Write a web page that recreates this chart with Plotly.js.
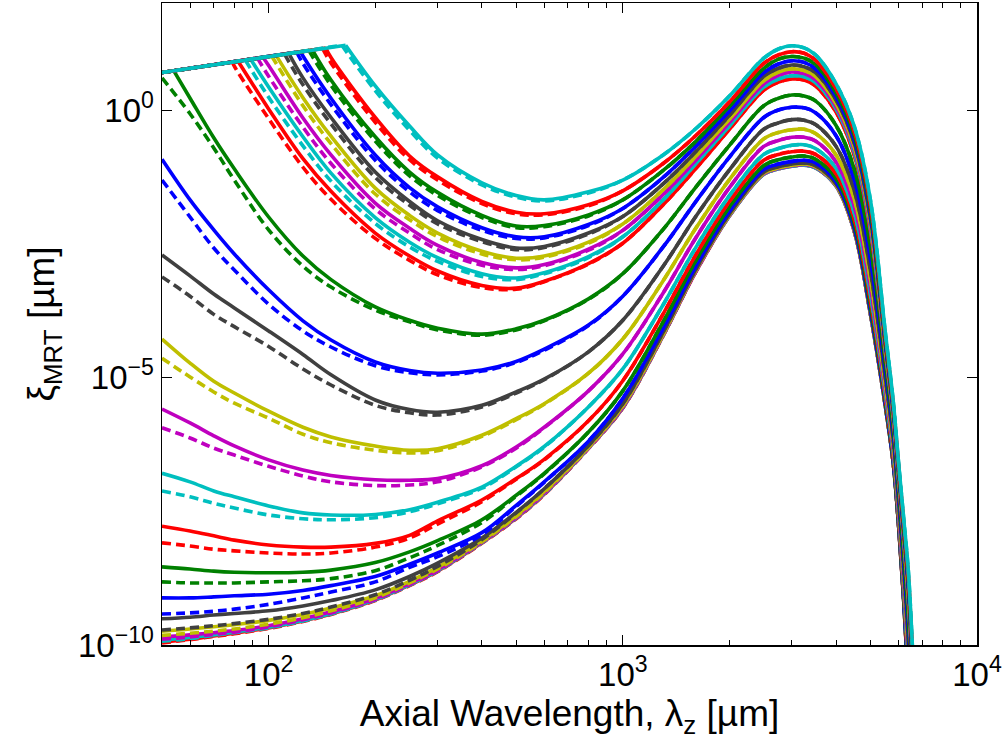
<!DOCTYPE html>
<html>
<head>
<meta charset="utf-8">
<script src="https://cdn.plot.ly/plotly-3.0.1.min.js"></script>
<style>
  html, body { margin: 0; padding: 0; background: #fff; }
  #chart { width: 1008px; height: 744px; }
</style>
</head>
<body>
<div id="chart"></div>
<script>
// Axial wavelength grids (µm)
const lambdaLeft  = [50, 60, 70, 80, 100, 125, 150, 200, 250, 300, 400, 500, 600, 800];
const lambdaRight = [1000, 1300, 1600, 2000, 2500, 2750, 3000, 3250, 3500, 4000, 4500, 5000, 5500, 5800, 6000, 6200, 6400, 6600, 6800, 7000];
// upper limit line (log10 ξ) at the first seven left wavelengths
const ceilingLog = [0.70, 0.78, 0.85, 0.90, 1.00, 1.10, 1.18];

// All values below are log10(ξ_MRT / µm).
// null = point lies on the upper limit line; kink = [λ, log10 ξ] where a curve leaves that line.
const kinkS01 = [165, 1.21], kinkD01 = [161, 1.21];
const solid01 = [null, null, null, null, null, null, null, 0.45, -0.30, -0.84, -1.36, -1.60, -1.68, -1.53];
const dash01  = [null, null, null, null, null, null, null, 0.36, -0.38, -0.90, -1.40, -1.63, -1.70, -1.55];
const right01 = [-1.31, -0.84, -0.36, 0.26, 0.97, 1.14, 1.20, 1.16, 1.03, 0.49, -0.30, -1.68, -4.11, -5.44, -6.56, -7.59, -8.62, -10.28, -12.0, -14.0];

const kinkS02 = [145, 1.16], kinkD02 = [142, 1.15];
const solid02 = [null, null, null, null, null, null, 0.98, -0.14, -0.86, -1.25, -1.71, -1.91, -1.94, -1.77];
const dash02  = [null, null, null, null, null, null, 0.88, -0.23, -0.93, -1.31, -1.75, -1.94, -1.96, -1.79];
const right02 = [-1.51, -1.00, -0.49, 0.15, 0.87, 1.03, 1.09, 1.06, 0.93, 0.40, -0.39, -1.78, -4.18, -5.50, -6.62, -7.66, -8.72, -10.39, -12.11, -14.10];

const kinkS03 = [133, 1.12], kinkD03 = [130, 1.11];
const solid03 = [null, null, null, null, null, null, 0.56, -0.50, -1.16, -1.54, -1.97, -2.17, -2.16, -1.96];
const dash03  = [null, null, null, null, null, null, 0.46, -0.58, -1.23, -1.60, -2.01, -2.20, -2.18, -1.98];
const right03 = [-1.68, -1.13, -0.60, 0.07, 0.78, 0.95, 1.00, 0.97, 0.85, 0.32, -0.47, -1.87, -4.23, -5.54, -6.66, -7.72, -8.80, -10.47, -12.20, -14.17];

const kinkS04 = [123, 1.09], kinkD04 = [120, 1.08];
const solid04 = [null, null, null, null, null, 1.01, 0.22, -0.84, -1.45, -1.81, -2.20, -2.37, -2.37, -2.14];
const dash04  = [null, null, null, null, null, 0.87, 0.10, -0.94, -1.53, -1.88, -2.25, -2.40, -2.39, -2.16];
const right04 = [-1.84, -1.26, -0.69, -0.02, 0.70, 0.86, 0.92, 0.89, 0.77, 0.25, -0.55, -1.95, -4.28, -5.59, -6.71, -7.78, -8.88, -10.56, -12.29, -14.25];

const kinkS05 = [114, 1.06], kinkD05 = [111, 1.04];
const solid05 = [null, null, null, null, null, 0.60, -0.14, -1.16, -1.71, -2.07, -2.42, -2.58, -2.55, -2.30];
const dash05  = [null, null, null, null, null, 0.47, -0.26, -1.26, -1.78, -2.13, -2.46, -2.61, -2.57, -2.32];
const right05 = [-1.99, -1.38, -0.79, -0.10, 0.63, 0.78, 0.84, 0.81, 0.70, 0.19, -0.61, -2.02, -4.33, -5.62, -6.74, -7.83, -8.95, -10.63, -12.37, -14.32];

const kinkS06 = [105, 1.02], kinkD06 = [102, 1.01];
const solid06 = [null, null, null, null, null, 0.23, -0.49, -1.46, -1.97, -2.30, -2.64, -2.77, -2.73, -2.47];
const dash06  = [null, null, null, null, null, 0.08, -0.63, -1.57, -2.05, -2.37, -2.69, -2.80, -2.75, -2.49];
const right06 = [-2.13, -1.49, -0.88, -0.17, 0.55, 0.71, 0.77, 0.74, 0.63, 0.12, -0.68, -2.09, -4.38, -5.66, -6.78, -7.88, -9.02, -10.71, -12.44, -14.38];

const kinkS07 = [96.5, 0.98], kinkD07 = [93, 0.97];
const solid07 = [null, null, null, null, 0.83, -0.15, -0.84, -1.74, -2.21, -2.53, -2.85, -2.95, -2.89, -2.60];
const dash07  = [null, null, null, null, 0.63, -0.32, -1.00, -1.85, -2.30, -2.61, -2.90, -2.98, -2.91, -2.62];
const right07 = [-2.25, -1.58, -0.95, -0.23, 0.49, 0.65, 0.71, 0.68, 0.57, 0.07, -0.73, -2.15, -4.42, -5.70, -6.82, -7.92, -9.08, -10.77, -12.51, -14.44];

const kinkS08 = [89, 0.95], kinkD08 = [86, 0.93];
const solid08 = [null, null, null, null, 0.43, -0.50, -1.18, -2.01, -2.47, -2.76, -3.06, -3.14, -3.04, -2.74];
const dash08  = [null, null, null, null, 0.24, -0.67, -1.33, -2.12, -2.56, -2.83, -3.11, -3.17, -3.06, -2.76];
const right08 = [-2.37, -1.68, -1.02, -0.30, 0.43, 0.58, 0.64, 0.62, 0.51, 0.02, -0.79, -2.21, -4.46, -5.73, -6.85, -7.96, -9.14, -10.83, -12.57, -14.50];

const kinkS09 = [82, 0.91], kinkD09 = [79, 0.90];
const solid09 = [null, null, null, null, 0.02, -0.91, -1.52, -2.30, -2.73, -3.01, -3.28, -3.33, -3.20, -2.87];
const dash09  = [null, null, null, 0.82, -0.16, -1.07, -1.67, -2.40, -2.81, -3.08, -3.32, -3.35, -3.21, -2.88];
const right09 = [-2.49, -1.77, -1.11, -0.36, 0.37, 0.52, 0.58, 0.56, 0.45, -0.04, -0.84, -2.27, -4.49, -5.76, -6.88, -8.01, -9.20, -10.89, -12.64, -14.55];

const kinkS10 = [54, 0.73], kinkD10 = null;
const solid10 = [null, 0.22, -0.52, -1.10, -2.00, -2.73, -3.17, -3.68, -3.93, -4.08, -4.19, -4.09, -3.93, -3.53];
const dash10  = [0.60, -0.07, -0.71, -1.31, -2.24, -2.92, -3.31, -3.74, -3.96, -4.11, -4.21, -4.11, -3.94, -3.54];
const right10 = [-3.06, -2.23, -1.46, -0.66, 0.08, 0.22, 0.28, 0.26, 0.17, -0.29, -1.10, -2.55, -4.68, -5.92, -7.04, -8.21, -9.48, -11.19, -12.94, -14.82];

const solid11 = [-0.92, -1.68, -2.24, -2.69, -3.36, -3.94, -4.30, -4.71, -4.87, -4.92, -4.86, -4.70, -4.47, -4.02];
const dash11  = [-1.31, -2.00, -2.58, -2.99, -3.63, -4.13, -4.43, -4.78, -4.91, -4.95, -4.88, -4.72, -4.49, -4.03];
const right11 = [-3.48, -2.56, -1.73, -0.88, -0.14, 0.00, 0.05, 0.04, -0.05, -0.48, -1.30, -2.77, -4.82, -6.03, -7.15, -8.36, -9.69, -11.41, -13.17, -15.02];

const solid12 = [-2.71, -3.10, -3.44, -3.70, -4.13, -4.57, -4.95, -5.42, -5.60, -5.65, -5.52, -5.27, -5.03, -4.52];
const dash12  = [-3.12, -3.48, -3.82, -4.05, -4.42, -4.84, -5.14, -5.52, -5.66, -5.70, -5.55, -5.29, -5.04, -4.52];
const right12 = [-3.93, -2.92, -2.01, -1.12, -0.36, -0.24, -0.18, -0.19, -0.27, -0.68, -1.50, -2.99, -4.96, -6.15, -7.27, -8.52, -9.90, -11.64, -13.41, -15.23];

const solid13 = [-4.28, -4.73, -5.07, -5.29, -5.63, -5.93, -6.11, -6.28, -6.36, -6.33, -6.08, -5.77, -5.49, -4.92];
const dash13  = [-4.64, -4.99, -5.27, -5.48, -5.76, -6.06, -6.22, -6.36, -6.41, -6.37, -6.10, -5.79, -5.50, -4.92];
const right13 = [-4.28, -3.19, -2.23, -1.30, -0.54, -0.42, -0.37, -0.36, -0.44, -0.84, -1.66, -3.16, -5.08, -6.25, -7.37, -8.64, -10.08, -11.83, -13.60, -15.39];

const solid14 = [-5.59, -5.85, -6.09, -6.28, -6.54, -6.73, -6.83, -6.91, -6.92, -6.89, -6.65, -6.30, -5.93, -5.25];
const dash14  = [-5.94, -6.13, -6.32, -6.45, -6.66, -6.84, -6.95, -7.02, -7.01, -6.95, -6.67, -6.32, -5.94, -5.25];
const right14 = [-4.56, -3.42, -2.41, -1.45, -0.68, -0.57, -0.51, -0.51, -0.58, -0.97, -1.79, -3.30, -5.17, -6.32, -7.44, -8.74, -10.21, -11.97, -13.75, -15.52];

const solid15 = [-6.79, -6.95, -7.12, -7.23, -7.40, -7.53, -7.57, -7.56, -7.47, -7.33, -7.05, -6.66, -6.29, -5.55];
const dash15  = [-7.12, -7.23, -7.35, -7.44, -7.57, -7.64, -7.66, -7.62, -7.51, -7.36, -7.07, -6.67, -6.30, -5.55];
const right15 = [-4.84, -3.64, -2.59, -1.60, -0.83, -0.72, -0.66, -0.65, -0.72, -1.09, -1.92, -3.44, -5.26, -6.40, -7.52, -8.84, -10.35, -12.12, -13.90, -15.66];

const solid16 = [-7.78, -7.87, -7.96, -8.04, -8.13, -8.17, -8.17, -8.10, -7.95, -7.68, -7.29, -6.89, -6.53, -5.81];
const dash16  = [-8.09, -8.15, -8.21, -8.24, -8.28, -8.30, -8.28, -8.17, -8.00, -7.74, -7.32, -6.90, -6.54, -5.81];
const right16 = [-5.06, -3.81, -2.73, -1.71, -0.94, -0.83, -0.78, -0.77, -0.83, -1.19, -2.03, -3.55, -5.33, -6.46, -7.58, -8.92, -10.46, -12.23, -14.02, -15.76];

const solid17 = [-8.54, -8.58, -8.62, -8.64, -8.65, -8.64, -8.60, -8.46, -8.26, -8.05, -7.66, -7.20, -6.79, -6.02];
const dash17  = [-8.82, -8.84, -8.84, -8.84, -8.82, -8.80, -8.76, -8.61, -8.37, -8.14, -7.71, -7.22, -6.80, -6.02];
const right17 = [-5.25, -3.96, -2.84, -1.81, -1.04, -0.93, -0.88, -0.86, -0.92, -1.28, -2.11, -3.65, -5.39, -6.51, -7.63, -8.99, -10.55, -12.33, -14.13, -15.85];

const solid18 = [-9.12, -9.12, -9.10, -9.08, -9.05, -8.98, -8.89, -8.72, -8.49, -8.28, -7.90, -7.39, -6.95, -6.19];
const dash18  = [-9.42, -9.40, -9.37, -9.33, -9.24, -9.12, -9.01, -8.82, -8.55, -8.35, -7.94, -7.41, -6.96, -6.19];
const right18 = [-5.39, -4.08, -2.94, -1.89, -1.11, -1.01, -0.96, -0.94, -0.99, -1.34, -2.18, -3.72, -5.44, -6.55, -7.67, -9.04, -10.62, -12.41, -14.20, -15.92];

const solid19 = [-9.51, -9.48, -9.44, -9.41, -9.36, -9.27, -9.17, -8.97, -8.72, -8.47, -8.00, -7.52, -7.08, -6.27];
const dash19  = [-9.72, -9.68, -9.64, -9.60, -9.52, -9.41, -9.29, -9.06, -8.79, -8.53, -8.03, -7.53, -7.08, -6.27];
const right19 = [-5.49, -4.15, -3.00, -1.94, -1.16, -1.06, -1.01, -0.99, -1.04, -1.38, -2.22, -3.77, -5.47, -6.58, -7.70, -9.07, -10.67, -12.46, -14.25, -15.96];

const solid20 = [-9.74, -9.70, -9.66, -9.62, -9.54, -9.43, -9.31, -9.08, -8.81, -8.55, -8.05, -7.58, -7.13, -6.30];
const dash20  = [-9.82, -9.78, -9.74, -9.70, -9.61, -9.49, -9.36, -9.12, -8.84, -8.58, -8.07, -7.60, -7.15, -6.31];
const right20 = [-5.53, -4.19, -3.02, -1.96, -1.18, -1.08, -1.03, -1.01, -1.06, -1.40, -2.24, -3.79, -5.49, -6.59, -7.71, -9.08, -10.69, -12.48, -14.28, -15.98];

const solid21 = [-9.85, -9.81, -9.77, -9.73, -9.64, -9.51, -9.38, -9.13, -8.85, -8.59, -8.07, -7.61, -7.16, -6.31];
const dash21  = [-9.89, -9.85, -9.80, -9.76, -9.66, -9.53, -9.40, -9.15, -8.87, -8.61, -8.08, -7.62, -7.17, -6.32];
const right21 = [-5.55, -4.20, -3.04, -1.97, -1.19, -1.09, -1.04, -1.02, -1.07, -1.41, -2.25, -3.80, -5.49, -6.59, -7.71, -9.09, -10.70, -12.49, -14.29, -15.99];

const solid22 = [-9.91, -9.86, -9.81, -9.76, -9.67, -9.54, -9.41, -9.15, -8.87, -8.61, -8.08, -7.62, -7.17, -6.32];
const dash22  = [-9.93, -9.88, -9.82, -9.77, -9.68, -9.55, -9.42, -9.16, -8.88, -8.62, -8.09, -7.63, -7.18, -6.32];
const right22 = [-5.56, -4.21, -3.04, -1.98, -1.20, -1.10, -1.05, -1.03, -1.08, -1.42, -2.26, -3.81, -5.50, -6.60, -7.72, -9.10, -10.71, -12.50, -14.30, -16.00];

const solid23 = [-9.94, -9.89, -9.83, -9.78, -9.68, -9.55, -9.42, -9.16, -8.88, -8.62, -8.09, -7.63, -7.18, -6.32];
const dash23  = [-9.96, -9.90, -9.84, -9.79, -9.69, -9.56, -9.43, -9.17, -8.89, -8.63, -8.10, -7.64, -7.19, -6.33];
const right23 = [-5.57, -4.22, -3.05, -1.98, -1.20, -1.10, -1.05, -1.03, -1.08, -1.42, -2.26, -3.81, -5.50, -6.60, -7.72, -9.10, -10.71, -12.50, -14.30, -16.00];

// Line colours, top curve first
const curveColors = ['#00bfbf', '#ff0000', '#008000', '#0000ff', '#404040', '#bfbf00', '#bf00bf',
                     '#00bfbf', '#ff0000', '#008000', '#0000ff', '#404040', '#bfbf00', '#bf00bf',
                     '#00bfbf', '#ff0000', '#008000', '#0000ff', '#404040', '#bfbf00', '#bf00bf',
                     '#00bfbf', '#ff0000'];

const curveTable = [
  [solid01, dash01, right01, kinkS01, kinkD01],
  [solid02, dash02, right02, kinkS02, kinkD02],
  [solid03, dash03, right03, kinkS03, kinkD03],
  [solid04, dash04, right04, kinkS04, kinkD04],
  [solid05, dash05, right05, kinkS05, kinkD05],
  [solid06, dash06, right06, kinkS06, kinkD06],
  [solid07, dash07, right07, kinkS07, kinkD07],
  [solid08, dash08, right08, kinkS08, kinkD08],
  [solid09, dash09, right09, kinkS09, kinkD09],
  [solid10, dash10, right10, kinkS10, kinkD10],
  [solid11, dash11, right11, null, null],
  [solid12, dash12, right12, null, null],
  [solid13, dash13, right13, null, null],
  [solid14, dash14, right14, null, null],
  [solid15, dash15, right15, null, null],
  [solid16, dash16, right16, null, null],
  [solid17, dash17, right17, null, null],
  [solid18, dash18, right18, null, null],
  [solid19, dash19, right19, null, null],
  [solid20, dash20, right20, null, null],
  [solid21, dash21, right21, null, null],
  [solid22, dash22, right22, null, null],
  [solid23, dash23, right23, null, null]
];

// Split one curve into the straight part along the upper limit line and the smooth part.
function buildSeries(left, right, kink) {
  const cx = [], cy = [], xs = [], ys = [];
  for (let i = 0; i < lambdaLeft.length; i++) {
    const v = left[i];
    if (v === null) {
      cx.push(lambdaLeft[i]); cy.push(Math.pow(10, ceilingLog[i]));
    } else {
      if (kink && xs.length === 0) {
        cx.push(kink[0]); cy.push(Math.pow(10, kink[1]));
        xs.push(kink[0]); ys.push(Math.pow(10, kink[1]));
      }
      xs.push(lambdaLeft[i]); ys.push(Math.pow(10, v));
    }
  }
  for (let j = 0; j < lambdaRight.length; j++) {
    xs.push(lambdaRight[j]); ys.push(Math.pow(10, right[j]));
  }
  return {cx, cy, x: xs, y: ys};
}

const traces = [];
function addCurve(series, col, dash) {
  const line = {color: col, width: 3.6};
  if (dash) line.dash = '9px,5px';
  if (series.cx.length > 1) {
    traces.push({type: 'scatter', mode: 'lines', x: series.cx, y: series.cy, hoverinfo: 'skip',
                 line: Object.assign({}, line, {shape: 'linear'})});
  }
  traces.push({type: 'scatter', mode: 'lines', x: series.x, y: series.y, hoverinfo: 'skip',
               line: Object.assign({}, line, {shape: 'spline', smoothing: 1})});
}
for (let n = curveTable.length - 1; n >= 0; n--) {
  const [sl, dl, rt, ks, kd] = curveTable[n];
  const col = curveColors[n];
  addCurve(buildSeries(sl, rt, ks), col, false);
  addCurve(buildSeries(dl, rt, kd), col, true);
}

const fontFam = 'Liberation Sans, Arial, Helvetica, sans-serif';
const minorX = [60, 70, 80, 90, 200, 300, 400, 500, 600, 700, 800, 900, 2000, 3000, 4000, 5000, 6000, 7000, 8000, 9000];

const layout = {
  width: 1008, height: 744,
  margin: {l: 162, r: 31, t: 3, b: 99},
  paper_bgcolor: '#fff', plot_bgcolor: '#fff',
  showlegend: false,
  hovermode: false,
  xaxis: {
    type: 'log', range: [1.69897, 4],
    showgrid: false, zeroline: false,
    showline: true, linecolor: '#000', linewidth: 1.5, mirror: 'ticks',
    ticks: 'inside', ticklen: 10, tickwidth: 1, tickcolor: '#000',
    tickvals: [100, 1000, 10000],
    ticktext: ['10<sup>2</sup>', '10<sup>3</sup>', '10<sup>4</sup>'],
    tickfont: {family: fontFam, size: 33, color: '#000'},
    minor: {tickvals: minorX, ticks: 'inside', ticklen: 5, tickcolor: '#000', showgrid: false},
    title: {text: 'Axial Wavelength, λ<sub>z</sub> [µm]', font: {family: fontFam, size: 37, color: '#000'}, standoff: 2},
    automargin: false
  },
  yaxis: {
    type: 'log', range: [-10, 2],
    showgrid: false, zeroline: false,
    showline: true, linecolor: '#000', linewidth: 1.5, mirror: 'ticks',
    ticks: 'inside', ticklen: 10, tickwidth: 1, tickcolor: '#000',
    tickvals: [1e-10, 1e-5, 1],
    ticktext: ['10<sup>−10</sup>', '10<sup>−5</sup>', '10<sup>0</sup>'],
    tickfont: {family: fontFam, size: 33, color: '#000'},
    title: {text: 'ξ<sub>MRT</sub> [µm]', font: {family: fontFam, size: 37, color: '#000'}, standoff: 12},
    automargin: false
  }
};

Plotly.newPlot('chart', traces, layout, {staticPlot: true, displayModeBar: false});
</script>
</body>
</html>
